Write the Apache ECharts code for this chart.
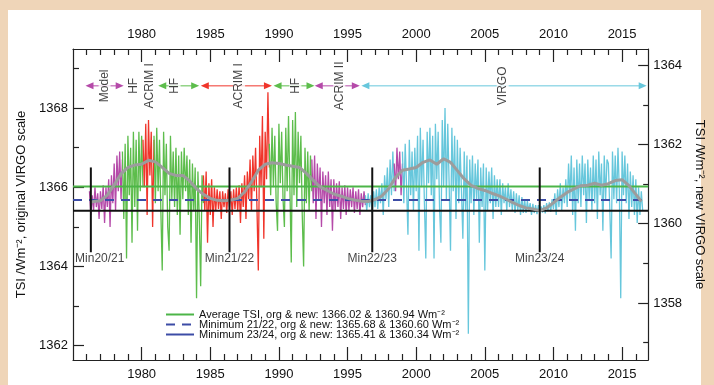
<!DOCTYPE html>
<html>
<head>
<meta charset="utf-8">
<script src="https://cdn.jsdelivr.net/npm/echarts@6/dist/echarts.min.js"></script>
<style>
  html, body { margin: 0; padding: 0; background: #efd5b8; }
  #tsiChart { width: 714px; height: 385px; }
</style>
</head>
<body>
<div id="tsiChart"></div>
<script>
// axes
var yearMin = 1975, yearMax = 2016.9;
var tsiMin = 1361.64, tsiMax = 1369.49;
var scaleShift = 5.08; // original minus new VIRGO scale
var majorYears = [1980, 1985, 1990, 1995, 2000, 2005, 2010, 2015];
var minorYears = [1976, 1977, 1978, 1979, 1981, 1982, 1983, 1984, 1986, 1987, 1988, 1989,
  1991, 1992, 1993, 1994, 1996, 1997, 1998, 1999, 2001, 2002, 2003, 2004, 2006, 2007,
  2008, 2009, 2011, 2012, 2013, 2014, 2016];
var leftMajor = [1362, 1364, 1366, 1368];
var leftMinor = [1363, 1365, 1367, 1369];
var rightMajor = [1358, 1360, 1362, 1364];
var rightMinor = [1357, 1359, 1361, 1363];

// composite TSI, sampled every 0.1 yr (original VIRGO scale)
var step = 0.1;
var modelStart = 1976.2;
var modelTsi = [1365.9, 1365.3, 1365.8, 1365.4, 1366.0, 1365.5, 1365.85, 1365.2, 1365.9, 1365.45,
  1366.05, 1365.1, 1366.0, 1365.5, 1366.2, 1365.0, 1366.3, 1365.6, 1366.6, 1365.4,
  1366.8, 1365.9, 1366.9, 1365.7, 1366.7];
var hf1Start = 1978.6;
var hf1Tsi = [1366.9, 1365.2, 1367.1, 1364.2, 1367.3, 1365.8, 1367.0, 1364.6, 1367.4, 1365.5,
  1367.2, 1364.9, 1367.4, 1365.9, 1367.3, 1366.0];
var acrim1aStart = 1980.1;
var acrim1aTsi = [1367.2, 1366.0, 1367.6, 1365.3, 1367.7, 1366.3, 1367.4, 1365.0, 1367.2];
var hf2Start = 1980.9;
var hf2Tsi = [1367.3,
  1365.6, 1367.5, 1365.9, 1367.2, 1365.4, 1363.9, 1367.4, 1365.8, 1367.1, 1365.0,
  1364.4, 1367.3, 1365.7, 1366.9, 1365.5, 1367.0, 1365.3, 1366.8, 1364.8, 1366.9,
  1365.7, 1367.0, 1365.9, 1366.8, 1365.3, 1366.7, 1364.6, 1366.6, 1365.4, 1366.5,
  1363.2, 1366.4, 1365.2, 1363.5, 1366.3, 1365.6];
var acrim1bStart = 1984.5;
var acrim1bTsi = [1366.3, 1365.4, 1366.4, 1364.6, 1366.1,
  1365.3, 1366.2, 1365.0, 1366.0, 1365.4, 1365.95, 1365.45, 1365.9, 1365.2, 1365.9,
  1365.5, 1365.85, 1365.35, 1365.95, 1365.5, 1365.9, 1365.3, 1365.95, 1365.45, 1366.0,
  1365.4, 1366.05, 1365.1, 1366.1, 1365.5, 1366.3, 1365.2, 1366.4, 1365.7, 1366.7,
  1365.4, 1366.8, 1365.9, 1367.0, 1365.5, 1363.9, 1367.3, 1366.0, 1367.8, 1364.7,
  1367.4, 1366.2, 1368.4, 1366.5];
var hf3Start = 1989.3;
var hf3Tsi = [1367.1, 1365.8, 1367.5, 1366.0, 1367.3, 1365.6, 1364.9,
  1367.6, 1366.1, 1367.4, 1365.7, 1365.0, 1367.5, 1365.9, 1367.8, 1366.0, 1364.1,
  1367.7, 1365.8, 1367.9, 1365.5, 1367.4, 1366.1, 1367.3, 1365.3, 1364.0, 1367.0,
  1365.6, 1366.9, 1365.4, 1366.8, 1365.9];
var acrim2Start = 1992.4;
var acrim2Tsi = [1366.7, 1365.6, 1366.8, 1365.2, 1366.6, 1365.7,
  1366.5, 1365.0, 1366.4, 1365.6, 1366.3, 1365.3, 1366.4, 1365.5, 1366.2, 1364.9,
  1366.2, 1365.4, 1366.1, 1365.5, 1366.15, 1365.2, 1366.0, 1365.45, 1366.05, 1365.3,
  1366.0, 1365.4, 1365.95, 1365.5, 1366.0, 1365.35, 1365.9, 1365.45, 1365.95, 1365.3,
  1365.85, 1365.5, 1365.9, 1365.55];
var virgoAStart = 1996.3;
var virgoATsi = [1365.8, 1365.4, 1365.85, 1365.5, 1365.8, 1365.35, 1365.9,
  1365.5, 1365.95, 1365.45, 1366.0, 1365.6, 1366.1, 1365.3, 1366.3, 1365.7, 1366.5,
  1365.5, 1366.7, 1365.8, 1366.9, 1365.9];
var acrim2bStart = 1998.4;
var acrim2bTsi = [1366.6, 1365.9, 1367.0, 1366.2, 1366.9, 1365.8, 1366.6];
var virgoBStart = 1999.0;
var virgoBTsi = [
  1366.9, 1365.6, 1367.1, 1366.0, 1364.8, 1367.2, 1365.8, 1366.9, 1365.4, 1367.0,
  1365.9, 1367.3, 1364.4, 1367.5, 1366.0, 1367.2, 1365.6, 1364.2, 1367.4, 1366.1,
  1367.5, 1365.8, 1367.3, 1364.2, 1367.6, 1366.2, 1367.4, 1365.5, 1364.6, 1367.7,
  1366.0, 1368.0, 1365.7, 1367.6, 1366.1, 1364.4, 1367.5, 1365.9, 1367.3, 1365.2,
  1367.2, 1365.6, 1367.0, 1365.9, 1364.7, 1366.9, 1365.4, 1366.8, 1362.3, 1366.7,
  1365.6, 1366.8, 1365.3, 1366.6, 1365.7, 1366.7, 1364.6, 1366.5, 1365.5, 1366.6,
  1363.9, 1366.5, 1365.4, 1366.4, 1365.6, 1366.5, 1365.2, 1366.3, 1365.5, 1366.2,
  1365.5, 1366.2, 1365.3, 1366.1, 1365.6, 1366.0, 1365.4, 1366.1, 1365.5, 1365.95,
  1365.4, 1365.9, 1365.35, 1365.85, 1365.4, 1365.8, 1365.3, 1365.75, 1365.35, 1365.7,
  1365.35, 1365.65, 1365.4, 1365.6, 1365.3, 1365.58, 1365.35, 1365.55, 1365.32, 1365.55,
  1365.33, 1365.52, 1365.36, 1365.55, 1365.34, 1365.6, 1365.4, 1365.62, 1365.38, 1365.7,
  1365.45, 1365.85, 1365.3, 1365.95, 1365.5, 1366.1, 1365.4, 1366.0, 1365.6, 1366.2,
  1365.5, 1366.6, 1365.7, 1366.8, 1365.3, 1366.5, 1364.9, 1366.7, 1365.6, 1366.6,
  1365.5, 1366.8, 1365.8, 1366.6, 1365.1, 1366.7, 1365.7, 1366.5, 1365.4, 1366.8,
  1365.6, 1366.7, 1365.2, 1366.9, 1365.8, 1366.6, 1364.9, 1366.8, 1365.7, 1366.7,
  1366.6, 1365.5, 1364.2, 1366.9, 1365.7, 1366.8, 1365.6, 1367.0, 1365.9, 1363.2,
  1366.9, 1365.8, 1366.8, 1365.6, 1366.6, 1365.2, 1366.4, 1365.5, 1366.3, 1365.3,
  1366.2, 1365.1, 1366.0, 1365.3, 1365.9, 1365.4];

// smoothed composite (grey)
var smoothYears = [1976.3, 1976.5, 1977, 1977.5, 1978, 1978.5, 1979, 1979.5, 1980, 1980.5,
  1981, 1981.5, 1982, 1982.5, 1983, 1983.5, 1984, 1984.5, 1985, 1985.5, 1986, 1986.5,
  1987, 1987.5, 1988, 1988.5, 1989, 1989.5, 1990, 1990.5, 1991, 1991.5, 1992, 1992.5,
  1993, 1993.5, 1994, 1994.5, 1995, 1995.5, 1996, 1996.5, 1997, 1997.5, 1998, 1998.5,
  1999, 1999.5, 2000, 2000.5, 2001, 2001.5, 2002, 2002.5, 2003, 2003.5, 2004, 2004.5,
  2005, 2005.5, 2006, 2006.5, 2007, 2007.5, 2008, 2008.5, 2009, 2009.5, 2010, 2010.5,
  2011, 2011.5, 2012, 2012.5, 2013, 2013.5, 2014, 2014.5, 2015, 2015.5, 2016, 2016.4];
var smoothTsi = [1365.62, 1365.64, 1365.66, 1365.8, 1366.06, 1366.34, 1366.5, 1366.56, 1366.58, 1366.68,
  1366.64, 1366.5, 1366.35, 1366.3, 1366.3, 1366.16, 1365.96, 1365.82, 1365.72, 1365.67, 1365.66, 1365.68,
  1365.72, 1365.88, 1366.13, 1366.43, 1366.58, 1366.62, 1366.6, 1366.56, 1366.53, 1366.5, 1366.35, 1366.18,
  1366.01, 1365.92, 1365.83, 1365.78, 1365.72, 1365.68, 1365.65, 1365.64, 1365.69, 1365.78, 1365.97, 1366.25,
  1366.43, 1366.46, 1366.5, 1366.63, 1366.69, 1366.58, 1366.72, 1366.63, 1366.42, 1366.21, 1366.05, 1365.97,
  1365.92, 1365.85, 1365.79, 1365.71, 1365.62, 1365.54, 1365.48, 1365.45, 1365.41, 1365.48, 1365.61, 1365.75,
  1365.87, 1365.96, 1366.04, 1366.05, 1366.1, 1366.05, 1366.09, 1366.17, 1366.19, 1366.04, 1365.82, 1365.64];

// reference levels: original & new scale
var avgTsi = [1366.02, 1360.94];
var min2122Tsi = [1365.68, 1360.60];
var min2324Tsi = [1365.41, 1360.34];

// solar minima
var minNames = ['Min20/21', 'Min21/22', 'Min22/23', 'Min23/24'];
var minYears = [1976.3, 1986.4, 1996.8, 2009.0];
var minLabelYears = [1976.95, 1986.4, 1996.8, 2009.0];
var minBarLow = 1364.36, minBarHigh = 1366.5, minLabelTsi = 1364.2;

// instrument periods (top annotation)
var periodNames = ['Model', 'HF', 'ACRIM I', 'HF', 'ACRIM II', 'VIRGO'];
var periodStart = [1976.2, 1981.5, 1984.6, 1989.9, 1992.9, 1996.3];
var periodEnd = [1978.4, 1983.9, 1989.2, 1992.3, 1995.6, 2016.5];
var periodKind = ['mag', 'grn', 'red', 'grn', 'mag', 'cyn'];
var tagNames = ['Model', 'HF', 'ACRIM I', 'HF', 'ACRIM I', 'HF', 'ACRIM II', 'VIRGO'];
var tagYears = [1977.3, 1979.4, 1980.6, 1982.4, 1987.1, 1991.2, 1994.4, 2006.3];
var annotTsi = 1368.56;

var legendNames = [
  'Average TSI, org & new: ' + avgTsi[0].toFixed(2) + ' & ' + avgTsi[1].toFixed(2) + ' Wm\u207B\u00B2',
  'Minimum 21/22, org & new: ' + min2122Tsi[0].toFixed(2) + ' & ' + min2122Tsi[1].toFixed(2) + ' Wm\u207B\u00B2',
  'Minimum 23/24, org & new: ' + min2324Tsi[0].toFixed(2) + ' & ' + min2324Tsi[1].toFixed(2) + ' Wm\u207B\u00B2'
];

var kleur = { mag: '#b54aa9', grn: '#5dbd4c', red: '#f0352b', cyn: '#67c7dc' };
var fontName = 'Liberation Sans, Arial, sans-serif';

function keSeri(start, values) {
  return values.map(function (v, i) { return [+(start + i * step).toFixed(2), v]; });
}

var segmen = [
  [modelStart, modelTsi, 'mag'], [hf1Start, hf1Tsi, 'grn'], [acrim1aStart, acrim1aTsi, 'red'],
  [hf2Start, hf2Tsi, 'grn'], [acrim1bStart, acrim1bTsi, 'red'], [hf3Start, hf3Tsi, 'grn'],
  [acrim2Start, acrim2Tsi, 'mag'], [virgoAStart, virgoATsi, 'cyn'], [acrim2bStart, acrim2bTsi, 'mag'],
  [virgoBStart, virgoBTsi, 'cyn']
];

function polos(v) { return String(v); }

function sumbuX(pos, ticks, len, withLabel) {
  return {
    type: 'value', position: pos, min: yearMin, max: yearMax,
    axisLine: { show: withLabel, onZero: false, lineStyle: { color: '#222', width: 1.2 } },
    axisTick: { inside: true, length: len, customValues: ticks, lineStyle: { color: '#222', width: 1.2 } },
    axisLabel: { show: withLabel, customValues: ticks, formatter: polos, margin: 8, fontSize: 13, color: '#111', fontFamily: fontName },
    splitLine: { show: false }
  };
}

function sumbuY(pos, lo, hi, ticks, len, withLabel, name, rot, gap) {
  return {
    type: 'value', position: pos, min: lo, max: hi,
    name: name, nameLocation: 'middle', nameRotate: rot, nameGap: gap,
    nameTextStyle: { fontSize: 13, color: '#111', fontFamily: fontName },
    axisLine: { show: withLabel, onZero: false, lineStyle: { color: '#222', width: 1.2 } },
    axisTick: { inside: true, length: len, customValues: ticks, lineStyle: { color: '#222', width: 1.2 } },
    axisLabel: { show: withLabel, customValues: ticks, formatter: polos, margin: 5, fontSize: 13, color: '#111', fontFamily: fontName },
    splitLine: { show: false }
  };
}

function buatTsiChart() {
  var chart = echarts.init(document.getElementById('tsiChart'));
  var series = [];

  segmen.forEach(function (s) {
    series.push({
      type: 'line', data: keSeri(s[0], s[1]), showSymbol: false, silent: true, z: 2,
      lineStyle: { color: kleur[s[2]], width: 1.3 }
    });
  });

  var levelStyle = [
    { color: '#4cb548', width: 2, type: 'solid' },
    { color: '#3c4ca6', width: 2, type: [9, 7] },
    { color: '#111', width: 2, type: 'solid' }
  ];
  [avgTsi, min2122Tsi, min2324Tsi].forEach(function (lv, i) {
    series.push({
      name: legendNames[i], type: 'line', symbol: 'none', z: 3, silent: true,
      data: [[yearMin, lv[0]], [yearMax, lv[0]]], lineStyle: levelStyle[i]
    });
  });

  series.push({
    type: 'line', symbol: 'none', z: 4, silent: true,
    data: smoothYears.map(function (y, i) { return [y, smoothTsi[i]]; }),
    lineStyle: { color: '#9c9c9c', width: 3 }
  });

  minYears.forEach(function (y) {
    series.push({
      type: 'line', symbol: 'none', z: 5, silent: true,
      data: [[y, minBarLow], [y, minBarHigh]], lineStyle: { color: '#111', width: 2 }
    });
  });
  series.push({
    type: 'scatter', symbolSize: 0, z: 5, silent: true,
    data: minNames.map(function (n, i) { return { name: n, value: [minLabelYears[i], minLabelTsi] }; }),
    label: { show: true, position: 'inside', formatter: '{b}', fontSize: 12, color: '#111', fontFamily: fontName }
  });

  periodNames.forEach(function (n, i) {
    series.push({
      type: 'line', z: 6, silent: true, symbol: 'triangle', symbolSize: [7, 8], showSymbol: true,
      itemStyle: { color: kleur[periodKind[i]] },
      lineStyle: { color: kleur[periodKind[i]], width: 1 },
      data: [
        { value: [periodStart[i], annotTsi], symbolRotate: 90 },
        { value: [periodEnd[i], annotTsi], symbolRotate: -90 }
      ]
    });
  });
  series.push({
    type: 'scatter', symbolSize: 0, z: 7, silent: true,
    data: tagNames.map(function (n, i) { return { name: n, value: [tagYears[i], annotTsi] }; }),
    label: {
      show: true, position: 'inside', formatter: '{b}', rotate: 90, fontSize: 12, color: '#111',
      fontFamily: fontName, backgroundColor: '#fff', padding: [0, 2]
    }
  });

  var option = {
    animation: false,
    backgroundColor: '#efd5b8',
    graphic: [{ type: 'rect', z: -10, shape: { x: 8, y: 10, width: 693, height: 380 }, style: { fill: '#fff' } }],
    grid: { left: 73, right: 64, top: 49, bottom: 25 },
    legend: {
      orient: 'vertical', left: 160, top: 304, itemWidth: 28, itemHeight: 8, itemGap: -1,
      itemStyle: { opacity: 0 },
      textStyle: { fontSize: 11, color: '#111', fontFamily: fontName, lineHeight: 8 },
      data: [
        { name: legendNames[0] },
        { name: legendNames[1], lineStyle: { color: '#3c4ca6' } },
        { name: legendNames[2], lineStyle: { color: '#3c4ca6' } }
      ]
    },
    xAxis: [
      sumbuX('bottom', majorYears, 13, true),
      sumbuX('bottom', minorYears, 6, false),
      sumbuX('top', majorYears, 13, true),
      sumbuX('top', minorYears, 6, false)
    ],
    yAxis: [
      sumbuY('left', tsiMin, tsiMax, leftMajor, 11, true, 'TSI /Wm\u207B\u00B2, original VIRGO scale', 90, 40),
      sumbuY('left', tsiMin, tsiMax, leftMinor, 6, false, '', 90, 0),
      sumbuY('right', tsiMin - scaleShift, tsiMax - scaleShift, rightMajor, 10, true, 'TSI /Wm\u207B\u00B2, new VIRGO scale', -90, 37),
      sumbuY('right', tsiMin - scaleShift, tsiMax - scaleShift, rightMinor, 5, false, '', -90, 0)
    ],
    series: series
  };

  chart.setOption(option);
}

buatTsiChart();
</script>
</body>
</html>
